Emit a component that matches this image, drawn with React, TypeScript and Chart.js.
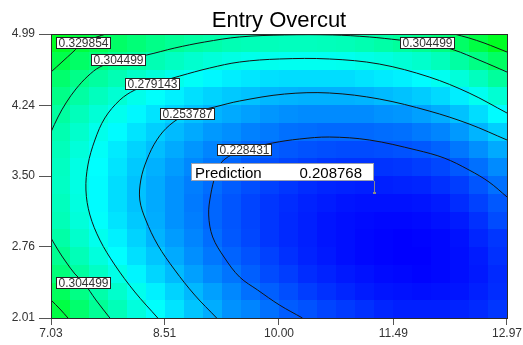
import React, { useEffect, useRef } from "react";
import { Chart, registerables } from "chart.js";

Chart.register(...registerables);

const FONT = '"Liberation Sans", Arial, Helvetica, sans-serif';

const chartTitle = "Entry Overcut";
const xRange = [7.03, 12.97];
const yRange = [2.01, 4.99];
const xTicks = [7.03, 8.51, 10.0, 11.49, 12.97];
const yTicks = [2.01, 2.76, 3.5, 4.24, 4.99];

// Response surface: rows from y = 4.99 (top) down to y = 2.01,
// columns from x = 7.03 to x = 12.97.
const surfaceRows: number[][] = [
  [0.339, 0.332, 0.326, 0.320, 0.315, 0.310, 0.306, 0.302, 0.300, 0.297, 0.296, 0.295, 0.294, 0.294, 0.295, 0.296, 0.298, 0.301, 0.304, 0.308, 0.313, 0.320, 0.330, 0.340],
  [0.328, 0.320, 0.314, 0.307, 0.302, 0.297, 0.293, 0.289, 0.286, 0.283, 0.281, 0.280, 0.279, 0.279, 0.279, 0.280, 0.282, 0.284, 0.287, 0.290, 0.295, 0.302, 0.311, 0.321],
  [0.318, 0.310, 0.303, 0.297, 0.291, 0.286, 0.281, 0.277, 0.273, 0.270, 0.268, 0.266, 0.265, 0.265, 0.265, 0.265, 0.267, 0.269, 0.271, 0.274, 0.279, 0.286, 0.294, 0.304],
  [0.310, 0.302, 0.294, 0.288, 0.281, 0.276, 0.271, 0.266, 0.262, 0.259, 0.257, 0.254, 0.253, 0.252, 0.252, 0.252, 0.253, 0.255, 0.257, 0.260, 0.264, 0.270, 0.279, 0.288],
  [0.303, 0.295, 0.287, 0.280, 0.273, 0.267, 0.262, 0.257, 0.253, 0.250, 0.247, 0.244, 0.242, 0.241, 0.241, 0.241, 0.241, 0.243, 0.244, 0.247, 0.251, 0.257, 0.265, 0.274],
  [0.298, 0.290, 0.281, 0.274, 0.267, 0.261, 0.255, 0.250, 0.245, 0.242, 0.238, 0.236, 0.233, 0.232, 0.231, 0.231, 0.231, 0.232, 0.233, 0.236, 0.239, 0.245, 0.253, 0.261],
  [0.295, 0.286, 0.277, 0.269, 0.262, 0.256, 0.250, 0.244, 0.239, 0.235, 0.231, 0.228, 0.226, 0.224, 0.223, 0.222, 0.222, 0.223, 0.224, 0.226, 0.229, 0.235, 0.242, 0.250],
  [0.293, 0.283, 0.275, 0.267, 0.259, 0.252, 0.246, 0.240, 0.235, 0.230, 0.226, 0.223, 0.220, 0.218, 0.216, 0.215, 0.215, 0.215, 0.216, 0.218, 0.221, 0.226, 0.233, 0.241],
  [0.292, 0.283, 0.274, 0.265, 0.257, 0.250, 0.243, 0.237, 0.232, 0.227, 0.223, 0.219, 0.216, 0.213, 0.211, 0.210, 0.209, 0.209, 0.210, 0.211, 0.214, 0.218, 0.225, 0.233],
  [0.294, 0.284, 0.274, 0.265, 0.257, 0.250, 0.243, 0.236, 0.230, 0.225, 0.220, 0.216, 0.213, 0.210, 0.208, 0.206, 0.205, 0.205, 0.205, 0.206, 0.208, 0.213, 0.219, 0.226],
  [0.296, 0.286, 0.276, 0.267, 0.259, 0.251, 0.243, 0.237, 0.230, 0.225, 0.220, 0.216, 0.212, 0.209, 0.206, 0.204, 0.203, 0.202, 0.202, 0.203, 0.205, 0.208, 0.214, 0.222],
  [0.301, 0.290, 0.280, 0.271, 0.262, 0.253, 0.246, 0.239, 0.232, 0.226, 0.221, 0.216, 0.212, 0.209, 0.206, 0.204, 0.202, 0.201, 0.200, 0.201, 0.202, 0.205, 0.211, 0.216],
  [0.307, 0.296, 0.285, 0.275, 0.266, 0.258, 0.250, 0.242, 0.235, 0.229, 0.224, 0.219, 0.214, 0.210, 0.207, 0.204, 0.202, 0.201, 0.200, 0.200, 0.202, 0.204, 0.208, 0.214],
  [0.314, 0.303, 0.292, 0.282, 0.272, 0.263, 0.255, 0.247, 0.240, 0.234, 0.228, 0.222, 0.218, 0.213, 0.210, 0.207, 0.205, 0.203, 0.202, 0.201, 0.202, 0.204, 0.207, 0.212],
  [0.323, 0.311, 0.300, 0.290, 0.280, 0.271, 0.262, 0.254, 0.247, 0.240, 0.233, 0.228, 0.223, 0.218, 0.214, 0.211, 0.208, 0.206, 0.205, 0.204, 0.205, 0.206, 0.209, 0.213],
  [0.330, 0.318, 0.306, 0.296, 0.285, 0.276, 0.267, 0.258, 0.251, 0.243, 0.239, 0.233, 0.227, 0.224, 0.220, 0.217, 0.214, 0.211, 0.209, 0.209, 0.209, 0.210, 0.212, 0.216],
];

const contourLevels = [0.228431, 0.253787, 0.279143, 0.304499, 0.329854];

// level 0.329854
const c5TopLeft = [[7.030, 4.591], [7.173, 4.696], [7.316, 4.801], [7.459, 4.906], [7.628, 4.959], [7.745, 4.990]];
const c5BottomLeft = [[7.030, 2.199], [7.147, 2.104], [7.251, 2.010]];
const c5TopRight = [[12.281, 4.990], [12.476, 4.948], [12.671, 4.896], [12.840, 4.843], [12.970, 4.801]];
// level 0.304499
const c4Upper = [[7.030, 3.962], [7.121, 4.119], [7.225, 4.266], [7.355, 4.413], [7.511, 4.549], [7.667, 4.644], [7.914, 4.717], [8.278, 4.770], [8.642, 4.843], [9.032, 4.906], [9.487, 4.959], [10.072, 4.980], [10.695, 4.980], [11.176, 4.959], [11.566, 4.927], [11.930, 4.896], [12.281, 4.822], [12.606, 4.717], [12.970, 4.591]];
const c4Lower = [[7.030, 2.849], [7.121, 2.724], [7.225, 2.598], [7.342, 2.472], [7.459, 2.377], [7.615, 2.199], [7.797, 2.010]];
// level 0.279143
const c3 = [[8.421, 2.010], [8.122, 2.283], [7.862, 2.566], [7.667, 2.828], [7.537, 3.091], [7.485, 3.353], [7.511, 3.616], [7.602, 3.878], [7.732, 4.109], [7.927, 4.297], [8.122, 4.402], [8.356, 4.465], [8.707, 4.549], [9.097, 4.633], [9.487, 4.696], [10.007, 4.728], [10.656, 4.728], [11.306, 4.675], [11.956, 4.539], [12.476, 4.371], [12.970, 4.161]];
// level 0.253787
const c2 = [[9.188, 2.010], [8.902, 2.251], [8.642, 2.514], [8.421, 2.776], [8.265, 3.038], [8.187, 3.248], [8.200, 3.458], [8.278, 3.668], [8.408, 3.878], [8.577, 4.035], [8.811, 4.151], [9.162, 4.224], [9.487, 4.287], [10.072, 4.360], [10.656, 4.371], [11.306, 4.308], [11.956, 4.182], [12.476, 4.046], [12.970, 3.878]];
// level 0.228431
const c1 = [[10.306, 2.010], [10.007, 2.146], [9.721, 2.304], [9.487, 2.440], [9.292, 2.640], [9.136, 2.860], [9.084, 3.091], [9.110, 3.301], [9.175, 3.510], [9.279, 3.668], [9.552, 3.773], [9.916, 3.846], [10.267, 3.888], [10.656, 3.909], [11.176, 3.878], [11.787, 3.773], [12.151, 3.689], [12.476, 3.563], [12.736, 3.437], [12.970, 3.280]];

const contourSegments = [
  { level: 4, points: c5TopLeft, labels: [3] },
  { level: 4, points: c5BottomLeft, labels: [] as number[] },
  { level: 4, points: c5TopRight, labels: [] as number[] },
  { level: 3, points: c4Upper, labels: [6, 15] },
  { level: 3, points: c4Lower, labels: [4] },
  { level: 2, points: c3, labels: [11] },
  { level: 1, points: c2, labels: [10] },
  { level: 0, points: c1, labels: [10] },
];

const predLabel = "Prediction";
const predX = 11.24;
const predY = 3.32;
const predValue = 0.208768;

function clamp01(t: number) {
  return Math.max(0, Math.min(1, t));
}

function surfaceColor(v: number): string {
  const lo = 0.2, mid = 0.275, hi = 0.35;
  let g = 0, b = 255;
  if (v <= mid) {
    g = 255 * clamp01((v - lo) / (mid - lo));
  } else {
    g = 255;
    b = 255 * (1 - clamp01((v - mid) / (hi - mid)));
  }
  return `rgb(0,${Math.round(g)},${Math.round(b)})`;
}

export default function App() {
  const ref = useRef<HTMLCanvasElement>(null);

  useEffect(() => {
    const canvas = ref.current;
    if (!canvas) return;

    const surfacePlugin = {
      id: "surface",
      beforeDatasetsDraw(chart: any) {
        const { ctx, chartArea: ca, scales } = chart;
        const xs = scales.x, ys = scales.y;
        const nR = surfaceRows.length, nC = surfaceRows[0].length;
        const dx = (xRange[1] - xRange[0]) / nC;
        const dy = (yRange[1] - yRange[0]) / nR;
        ctx.save();
        ctx.beginPath();
        ctx.rect(ca.left, ca.top, ca.width, ca.height);
        ctx.clip();
        for (let r = 0; r < nR; r++) {
          const yTop = Math.round(ys.getPixelForValue(yRange[1] - r * dy));
          const yBot = Math.round(ys.getPixelForValue(yRange[1] - (r + 1) * dy));
          for (let c = 0; c < nC; c++) {
            const x0 = Math.round(xs.getPixelForValue(xRange[0] + c * dx));
            const x1 = Math.round(xs.getPixelForValue(xRange[0] + (c + 1) * dx));
            ctx.fillStyle = surfaceColor(surfaceRows[r][c]);
            ctx.fillRect(x0, yTop, x1 - x0, yBot - yTop);
          }
        }
        ctx.restore();
      },
    };

    const overlayPlugin = {
      id: "overlay",
      afterDatasetsDraw(chart: any) {
        const { ctx, chartArea: ca, scales } = chart;
        const xs = scales.x, ys = scales.y;
        ctx.save();
        // frame
        ctx.strokeStyle = "#2a2a2a";
        ctx.lineWidth = 1;
        ctx.strokeRect(Math.round(ca.left) + 0.5, Math.round(ca.top) + 0.5, Math.round(ca.width), Math.round(ca.height));

        // contour labels
        ctx.font = `12px ${FONT}`;
        ctx.textAlign = "center";
        ctx.textBaseline = "middle";
        contourSegments.forEach((seg) => {
          seg.labels.forEach((idx) => {
            const [vx, vy] = seg.points[idx];
            const cx = xs.getPixelForValue(vx);
            const cy = ys.getPixelForValue(vy);
            const text = contourLevels[seg.level].toFixed(6);
            const w = Math.round(ctx.measureText(text).width + 5);
            const h = 12;
            let bx = Math.round(cx - w / 2);
            let by = Math.round(cy - h / 2);
            bx = Math.max(ca.left + 5, Math.min(ca.right - w - 3, bx));
            by = Math.max(ca.top + 3, Math.min(ca.bottom - h - 3, by));
            ctx.fillStyle = "#ffffff";
            ctx.fillRect(bx, by, w, h);
            ctx.strokeStyle = "#222";
            ctx.strokeRect(bx + 0.5, by + 0.5, w - 1, h - 1);
            ctx.fillStyle = "#333";
            ctx.fillText(text, bx + w / 2, by + h / 2 + 1);
          });
        });

        // prediction flag
        const px = Math.round(xs.getPixelForValue(predX));
        const py = Math.round(ys.getPixelForValue(predY));
        ctx.font = `15px ${FONT}`;
        const vt = predValue.toFixed(6);
        const wl = ctx.measureText(predLabel).width;
        const wv = ctx.measureText(vt).width;
        const bw = Math.round(4 + wl + 38 + wv + 12);
        const bh = 18;
        const bRight = px;
        const bBottom = py - 12;
        const bLeft = bRight - bw;
        const bTop = bBottom - bh;
        ctx.strokeStyle = "#8a8a8a";
        ctx.beginPath();
        ctx.moveTo(px + 0.5, bBottom);
        ctx.lineTo(px + 0.5, py);
        ctx.stroke();
        ctx.fillStyle = "#8a8a8a";
        ctx.fillRect(px - 1, py - 1, 3, 2);
        ctx.fillStyle = "#ffffff";
        ctx.fillRect(bLeft, bTop, bw, bh);
        ctx.strokeStyle = "#9aa0b0";
        ctx.strokeRect(bLeft + 0.5, bTop + 0.5, bw - 1, bh - 1);
        ctx.fillStyle = "#000";
        ctx.textBaseline = "alphabetic";
        ctx.textAlign = "left";
        ctx.fillText(predLabel, bLeft + 4, bBottom - 3);
        ctx.textAlign = "right";
        ctx.fillText(vt, bRight - 12, bBottom - 3);

        // title
        ctx.font = `22px ${FONT}`;
        ctx.textAlign = "center";
        ctx.textBaseline = "alphabetic";
        ctx.fillStyle = "#000";
        ctx.fillText(chartTitle, (ca.left + ca.right) / 2, 27);
        ctx.restore();
      },
    };

    const datasets: any[] = contourSegments.map((seg) => ({
      data: seg.points.map(([x, y]) => ({ x, y })),
      showLine: true,
      borderColor: "#141414",
      borderWidth: 1,
      pointRadius: 0,
      tension: 0.35,
      fill: false,
    }));

    const chart = new Chart(canvas, {
      type: "scatter",
      data: { datasets },
      options: {
        animation: false,
        responsive: false,
        devicePixelRatio: 1,
        events: [],
        layout: { padding: { top: 34, right: 15, bottom: 0, left: 0 } },
        plugins: {
          legend: { display: false },
          tooltip: { enabled: false },
          title: { display: false },
        },
        scales: {
          x: {
            type: "linear",
            min: xRange[0],
            max: xRange[1],
            afterBuildTicks: (s: any) => {
              s.ticks = xTicks.map((v) => ({ value: v }));
            },
            afterFit: (s: any) => {
              s.height = 27;
            },
            ticks: {
              callback: (v: any) => Number(v).toFixed(2),
              color: "#333",
              font: { family: FONT, size: 12 },
              padding: 1,
              maxRotation: 0,
              autoSkip: false,
            },
            grid: {
              display: true,
              drawOnChartArea: false,
              drawTicks: true,
              tickLength: 7,
              tickColor: "#555",
              color: "#555",
            },
            border: { display: false },
          },
          y: {
            type: "linear",
            min: yRange[0],
            max: yRange[1],
            afterBuildTicks: (s: any) => {
              s.ticks = yTicks.map((v) => ({ value: v }));
            },
            afterFit: (s: any) => {
              s.width = 51;
            },
            ticks: {
              callback: (v: any) => Number(v).toFixed(2),
              color: "#333",
              font: { family: FONT, size: 12 },
              padding: 4,
              autoSkip: false,
            },
            grid: {
              display: true,
              drawOnChartArea: false,
              drawTicks: true,
              tickLength: 12,
              tickColor: "#555",
              color: "#555",
            },
            border: { display: false },
          },
        },
      } as any,
      plugins: [surfacePlugin, overlayPlugin],
    });

    return () => chart.destroy();
  }, []);

  return (
    <div style={{ position: "absolute", left: 0, top: 0, width: 523, height: 345 }}>
      <canvas ref={ref} width={523} height={345} style={{ display: "block" }} />
    </div>
  );
}
